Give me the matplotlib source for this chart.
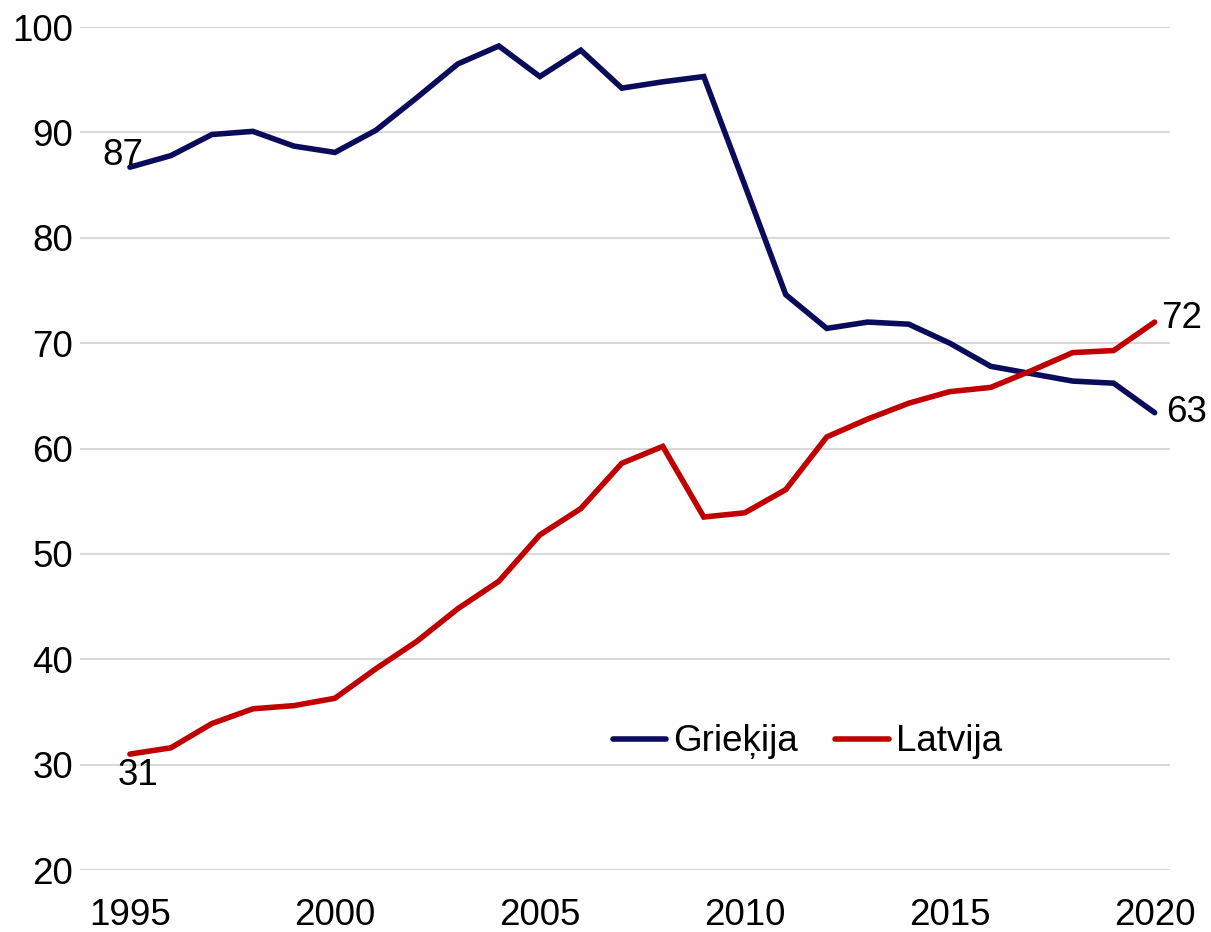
import numpy as np
import matplotlib.pyplot as plt

plt.rcParams['font.family'] = ['Liberation Sans', 'DejaVu Sans']

years = list(range(1995, 2021))
griekija = [86.7, 87.8, 89.8, 90.1, 88.7, 88.1, 90.2, 93.3, 96.5, 98.2,
            95.3, 97.8, 94.2, 94.8, 95.3, 85.0, 74.6, 71.4, 72.0, 71.8,
            70.0, 67.8, 67.1, 66.4, 66.2, 63.4]
latvija = [31.0, 31.6, 33.9, 35.3, 35.6, 36.3, 39.1, 41.7, 44.8, 47.4,
           51.8, 54.3, 58.6, 60.2, 53.5, 53.9, 56.1, 61.1, 62.8, 64.3,
           65.4, 65.8, 67.4, 69.1, 69.3, 72.0]

navy = '#0b0b5c'
red = '#c00000'

fig = plt.figure(figsize=(12.11, 9.32), dpi=100)
ax = fig.add_axes([0.066, 0.0665, 0.9, 0.9045])

ax.plot(years, griekija, color=navy, linewidth=4, label='Grieķija',
        solid_capstyle='round', solid_joinstyle='miter')
ax.plot(years, latvija, color=red, linewidth=4, label='Latvija',
        solid_capstyle='round', solid_joinstyle='miter')

ax.set_xlim(1993.78, 2020.37)
ax.set_ylim(20, 100)
ax.set_yticks(range(20, 101, 10))
ax.set_xticks(range(1995, 2021, 5))
ax.grid(axis='y', color='#d9d9d9', linewidth=1.5)
ax.set_axisbelow(True)
for s in ax.spines.values():
    s.set_visible(False)
ax.tick_params(length=0, labelsize=26.5, colors='black')
ax.tick_params(axis='y', pad=5)
ax.tick_params(axis='x', pad=20)

# datu etiķetes
ax.annotate(f"{griekija[0]:.0f}", (years[0], griekija[0]), xytext=(-20, -4),
            textcoords='offset points', fontsize=26.5, va='bottom', ha='left')
ax.annotate(f"{latvija[0]:.0f}", (years[0], latvija[0]), xytext=(-9, -3),
            textcoords='offset points', fontsize=26.5, va='top', ha='left')
ax.annotate(f"{latvija[-1]:.0f}", (years[-1], latvija[-1]), xytext=(5, -10),
            textcoords='offset points', fontsize=26.5, va='bottom', ha='left')
ax.annotate(f"{griekija[-1]:.0f}", (years[-1], griekija[-1]), xytext=(8, 0),
            textcoords='offset points', fontsize=26.5, va='center', ha='left')

ax.legend(loc='center left', bbox_to_anchor=(0.489, 0.152), frameon=False,
          ncol=2, fontsize=26.5, handlelength=1.45, handletextpad=0.2,
          columnspacing=1.0, borderaxespad=0, borderpad=0)

fig.savefig('out.png', dpi=100)
plt.close()
